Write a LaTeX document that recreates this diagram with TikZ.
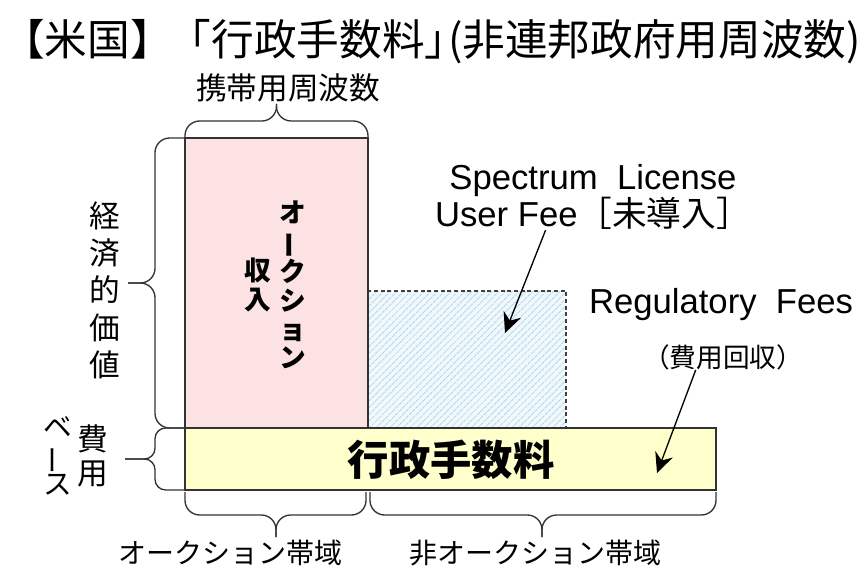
\documentclass[tikz,border=0pt]{standalone}
\usepackage{fontspec}
\setmainfont{Liberation Sans}
\newfontfamily\jp{Noto Sans CJK JP}
\usetikzlibrary{
    positioning,
    arrows.meta,
    patterns.meta,
    calc,
}
\definecolor{hatchbg}{RGB}{240,248,252}
\definecolor{hatchline}{RGB}{170,212,232}
\definecolor{auctionpink}{RGB}{252,226,226}
\definecolor{feeyellow}{RGB}{255,255,204}
\tikzset{
    % Box styles
    box/.style={draw=black!80, line width=1pt},
    auction box/.style={box, fill=auctionpink},
    fee box/.style={box, fill=feeyellow},
    future box/.style={draw=black!75, line width=0.8pt, dash pattern=on 3pt off 2pt,
                       preaction={fill=hatchbg},
                       pattern={Lines[angle=45, distance=3.6pt, line width=0.5pt]},
                       pattern color=hatchline},
    % Brace styles
    curly/.style={draw=black!80, line width=1pt, rounded corners=11pt},
    small curly/.style={curly, rounded corners=8pt},
    % Arrow styles
    arrow/.style={-{Stealth[length=15pt, width=14pt, inset=5pt]}, line width=1pt},
    % Text styles
    title/.style={font=\jp\fontsize{32}{34}\selectfont, inner sep=0pt},
    jtext/.style={font=\jp\fontsize{21}{25}\selectfont, inner sep=0pt},
    etext/.style={font=\fontsize{26}{27}\selectfont, inner sep=0pt, align=center},
    tate/.style={inner sep=0pt, align=center},
}
\newcommand{\tatebar}{\rotatebox[origin=c]{90}{ー}}

\begin{document}
\begin{tikzpicture}[x=0.75pt, y=-0.75pt]
    \useasboundingbox (0,0) rectangle (862,573);

    % Title
    \node[title, anchor=west] (title) at (2,42)
        {【米国】\kern-0.1em「行政手数料」\kern-0.45em(非連邦政府用周波数)};

    % Boxes
    \draw[future box] (368,291) rectangle (566,428);
    \draw[auction box] (185,138) rectangle (368,428);
    \draw[fee box] (185,428) rectangle (716,490);

    % Box texts
    \node[tate, font=\jp\bfseries\fontsize{20}{21.5}\selectfont] (auc) at (293,285)
        {オ\\\tatebar\\ク\\シ\\ョ\\ン};
    \node[tate, font=\jp\bfseries\fontsize{20}{21.5}\selectfont, left=6pt of auc] (rev) {収\\入};
    \node[font=\jp\bfseries\fontsize{31}{34}\selectfont, inner sep=0pt] (fee) at (451,460) {行政手数料};

    % Braces
    \draw[curly] (185,138) -- (185,121) -- (276.5,121) -- (276.5,104);
    \draw[curly] (368,138) -- (368,121) -- (276.5,121) -- (276.5,104);
    \draw[curly] (185,138) -- (155,138) -- (155,283) -- (128,283);
    \draw[curly] (185,428) -- (155,428) -- (155,283) -- (128,283);
    \draw[small curly] (185,428) -- (155,428) -- (155,459) -- (125,459);
    \draw[small curly] (185,490) -- (155,490) -- (155,459) -- (125,459);
    \draw[curly] (185,492) -- (185,515) -- (276,515) -- (276,537);
    \draw[curly] (366,492) -- (366,515) -- (276,515) -- (276,537);
    \draw[curly] (370,492) -- (370,515) -- (542,515) -- (542,537);
    \draw[curly] (716,492) -- (716,515) -- (542,515) -- (542,537);

    % Labels
    \node[jtext, font=\jp\fontsize{23}{26}\selectfont] (band) at (288,88) {携帯用周波数};
    \node[tate, font=\jp\fontsize{23}{28}\selectfont] (value) at (105,290) {経\\済\\的\\価\\値};
    \node[tate, font=\jp\fontsize{23}{26}\selectfont] (cost) at (93,456) {費\\用};
    \node[tate, font=\jp\fontsize{21.5}{21.5}\selectfont, left=4pt of cost] (base) {ベ\\\tatebar\\ス};
    \node[jtext] (aucband) at (230,553) {オークション帯域};
    \node[jtext] (nonband) at (535,553) {非オークション帯域};

    % Fee names
    \node[etext] (slf) at (593,197) {Spectrum\ \ License\\User Fee{\jp［未導入］}};
    \node[etext] (reg) at (721,305) {Regulatory\ \ Fees};
    \node[jtext, font=\jp\fontsize{20}{22}\selectfont] (recov) at (723,357) {（費用回収）};

    % Arrows
    \coordinate (slf tip) at (505,333);
    \coordinate (reg tip) at (657,473);
    \draw[arrow] ($(slf.south west)!0.35!(slf.south east)$) -- (slf tip);
    \draw[arrow] ($(recov.south west)!0.33!(recov.south east)$) -- (reg tip);
\end{tikzpicture}
\end{document}
